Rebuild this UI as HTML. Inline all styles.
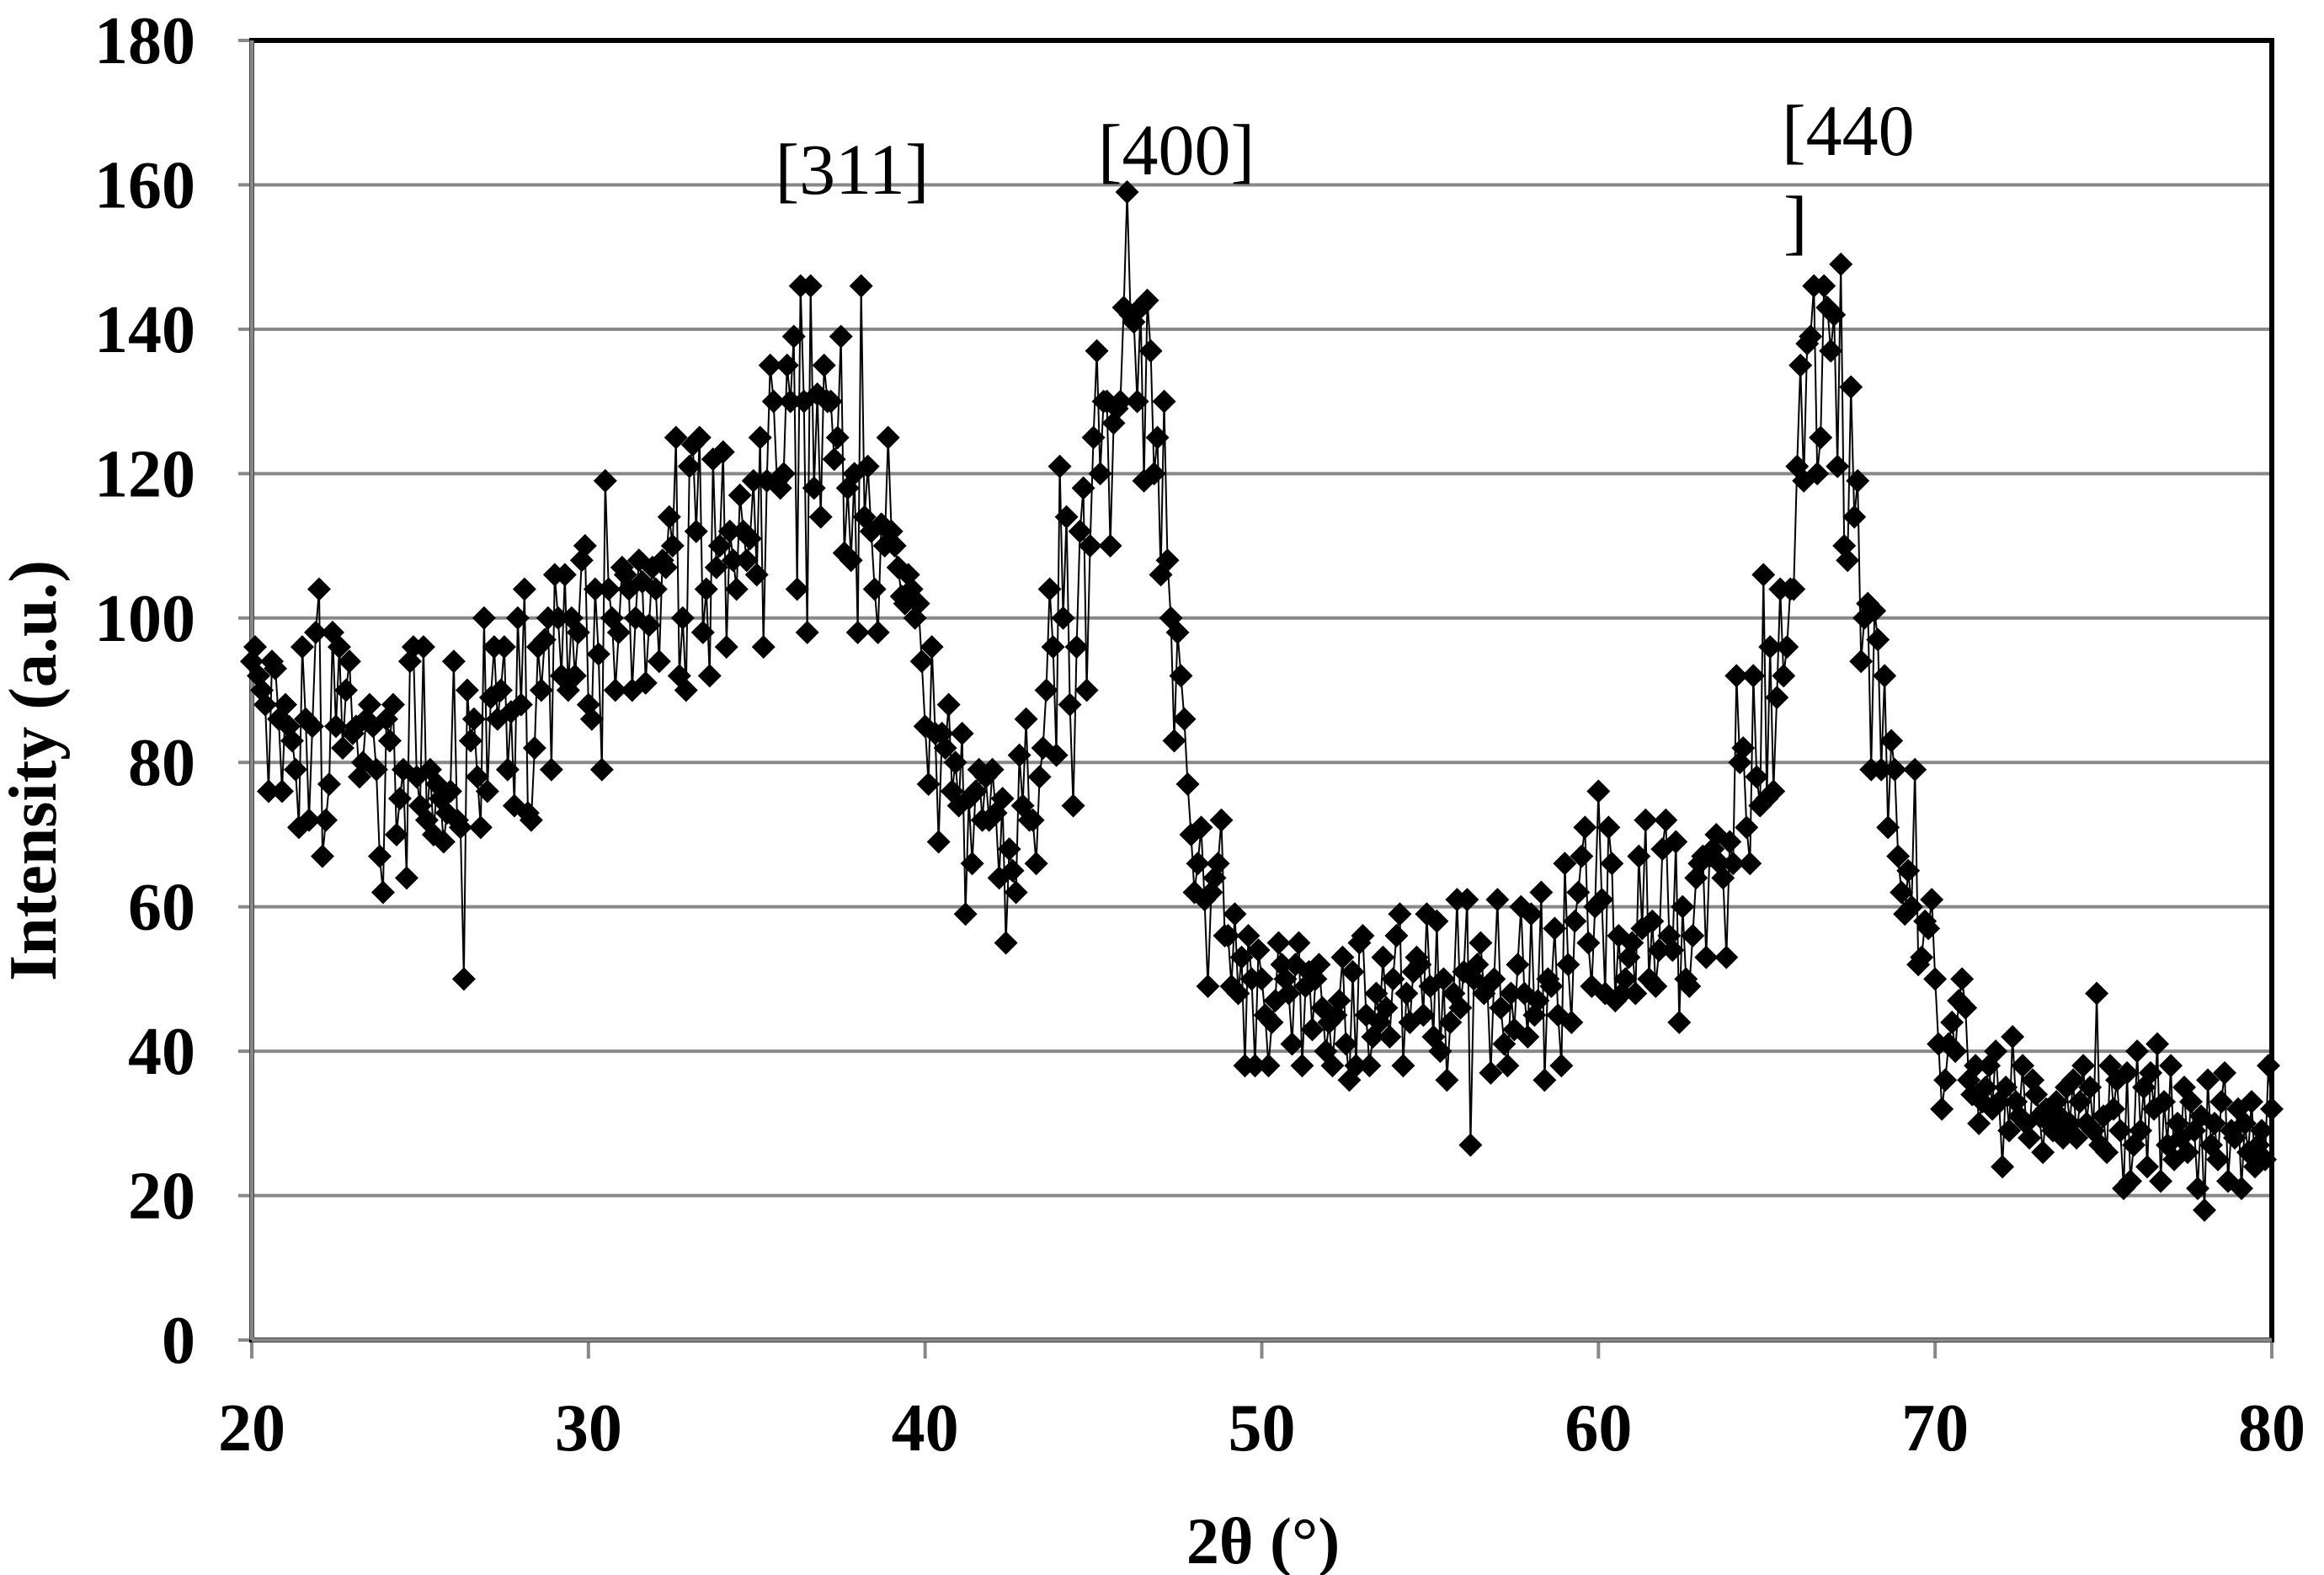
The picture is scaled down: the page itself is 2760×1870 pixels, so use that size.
<!DOCTYPE html>
<html><head><meta charset="utf-8"><style>
html,body{margin:0;padding:0;background:#fff;}
svg{display:block;font-family:"Liberation Serif",serif;}
</style></head><body>
<svg id="chart" width="2760" height="1870" viewBox="0 0 2760 1870" xmlns="http://www.w3.org/2000/svg">
<g id="grid"></g>
<g id="axes"></g>
<g id="series"></g>
<text x="1012" y="230" font-size="86" text-anchor="middle">[311]</text>
<text x="1397" y="207" font-size="86" text-anchor="middle">[400]</text>
<text x="2116" y="184" font-size="86">[440</text>
<text x="2118" y="292" font-size="86">]</text>
<text transform="translate(66,915) rotate(-90)" font-size="80" font-weight="bold" text-anchor="middle">Intensity (a.u.)</text>
<text x="1500" y="1856" font-size="78" font-weight="bold" text-anchor="middle">2θ (°)</text>
</svg>
<script>
const xStart = 20;
const xStep = 0.1;
const intensities = [
94,96,92,90,88,76,94,93,86,76,
88,85,83,79,71,96,86,72,85,98,
104,67,72,77,98,85,96,82,90,94,
84,85,78,80,86,88,85,79,67,62,
86,83,88,70,75,79,64,94,96,78,
74,96,72,79,70,77,75,69,73,76,
94,72,71,50,90,83,86,78,71,100,
76,89,96,86,90,96,79,87,74,100,
88,104,73,72,82,96,90,97,100,79,
106,100,92,106,90,100,92,98,108,110,
88,86,104,95,79,119,104,100,90,98,
107,106,104,90,100,108,105,91,99,107,
104,94,108,107,114,110,125,92,100,90,
121,124,112,125,98,104,92,122,107,110,
123,96,112,108,104,117,112,108,111,119,
106,125,96,119,135,130,119,118,120,135,
130,139,104,146,130,98,146,118,131,114,
135,130,130,122,125,139,109,118,108,120,
98,146,114,121,112,104,98,113,110,125,
112,110,107,103,102,106,104,100,102,94,
85,77,96,84,69,84,82,88,76,80,
74,84,59,75,66,76,79,72,78,72,
79,73,64,75,55,68,65,62,81,74,
86,72,72,66,78,82,90,104,96,81,
121,100,114,88,74,96,112,118,90,110,
125,137,120,130,130,110,127,129,130,143,
159,142,141,130,143,119,144,137,120,125,
106,130,108,100,83,98,92,86,77,70,
62,66,71,61,49,62,64,66,72,56,
56,49,59,48,53,38,56,50,38,54,
50,45,38,44,47,55,52,50,48,41,
52,55,38,49,51,43,50,52,46,40,
44,38,45,47,53,41,36,51,38,55,
56,45,38,42,48,44,53,46,42,50,
56,59,38,48,44,51,53,52,45,59,
49,42,58,40,50,36,44,48,61,46,
51,61,27,50,52,55,48,49,37,50,
61,46,41,38,48,43,52,60,48,42,
59,45,47,62,36,50,49,57,45,38,
66,52,44,58,62,67,71,55,49,60,
76,61,48,71,66,47,56,48,50,53,
55,48,67,57,72,50,58,49,54,68,
72,56,54,69,44,60,50,49,56,64,
66,67,53,67,68,70,66,64,53,69,
66,92,80,82,71,66,92,78,74,106,
75,96,76,89,104,92,96,104,104,121,
135,119,138,139,146,120,125,146,143,137,
142,121,149,110,108,132,114,119,94,100,
102,79,101,97,79,92,71,83,79,67,
62,59,65,60,79,52,53,58,57,61,
50,41,32,36,41,44,40,47,50,46,
36,34,38,30,33,35,38,32,40,33,
24,35,29,42,33,31,38,30,28,36,
34,31,26,32,30,29,33,31,28,35,
30,36,28,33,38,30,35,29,48,27,
31,26,38,32,36,29,21,37,22,27,
40,29,35,24,37,32,41,22,33,27,
38,25,30,28,35,26,33,29,21,31,
18,36,27,30,25,33,37,22,29,28,
32,21,30,26,33,24,27,29,25,38,
32
];
const yTicks = [0,20,40,60,80,100,120,140,160,180];
const xTicks = [20,30,40,50,60,70,80];

const L=299,R=2698,T=48,B=1591;
const xMin=20,xMax=80,yMin=0,yMax=180;
const sx=v=>L+(v-xMin)/(xMax-xMin)*(R-L);
const sy=v=>B-(v-yMin)/(yMax-yMin)*(B-T);
const NS="http://www.w3.org/2000/svg";
function mk(tag,attrs,parent){const e=document.createElementNS(NS,tag);for(const k in attrs)e.setAttribute(k,attrs[k]);parent.appendChild(e);return e;}
const grid=document.getElementById('grid'),axes=document.getElementById('axes'),series=document.getElementById('series');

yTicks.forEach(t=>{
  if(t>0&&t<180){const g=mk('line',{x1:L,x2:R,y1:sy(t),y2:sy(t),stroke:'#888','stroke-width':4},grid);
  
  }
  const tk=mk('line',{x1:L-16,x2:L,y1:sy(t),y2:sy(t),stroke:'#888','stroke-width':4},axes);
  
  
  const lb=mk('text',{x:232,y:sy(t)+27,'font-size':80,'font-weight':'bold','text-anchor':'end'},axes);
  lb.textContent=t;
  
  
});
xTicks.forEach(t=>{
  const tk=mk('line',{x1:sx(t),x2:sx(t),y1:B,y2:B+22,stroke:'#888','stroke-width':4},axes);
  
  
  const lb=mk('text',{x:sx(t),y:1722,'font-size':80,'font-weight':'bold','text-anchor':'middle'},axes);
  lb.textContent=t;
  
  
});
const fr=mk('rect',{x:L,y:T,width:R-L,height:B-T,fill:'none',stroke:'#000','stroke-width':6},axes);


const la=mk('line',{x1:L,x2:L,y1:T,y2:B,stroke:'#888','stroke-width':5},axes);


const ba=mk('line',{x1:L,x2:R,y1:B,y2:B,stroke:'#888','stroke-width':5},axes);



let d='';
intensities.forEach((v,i)=>{const x=sx(xStart+i*xStep),y=sy(v);d+=(i?'L':'M')+x.toFixed(1)+','+y.toFixed(1);});
const ln=mk('path',{d:d,fill:'none',stroke:'#000','stroke-width':2},series);


const h=14;
intensities.forEach((v,i)=>{const x=sx(xStart+i*xStep),y=sy(v);
  const p=mk('polygon',{points:`${x},${y-h} ${x+h},${y} ${x},${y+h} ${x-h},${y}`,fill:'#000'},series);
  
  
});
</script>
</body></html>
